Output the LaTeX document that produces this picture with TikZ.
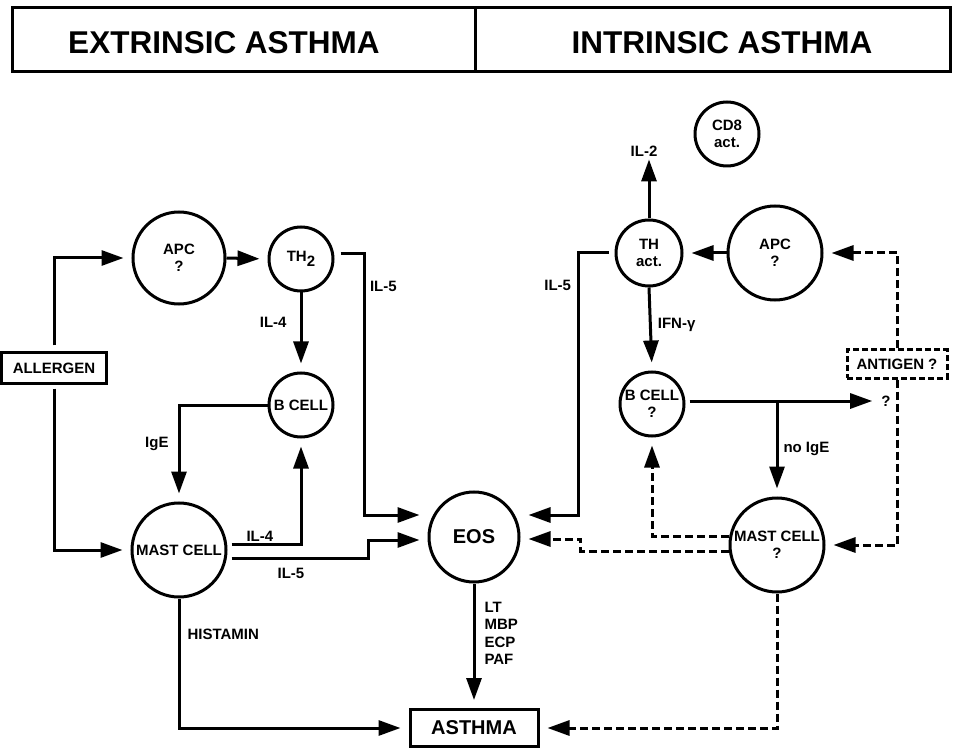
\documentclass[tikz,border=0pt]{standalone}
\usepackage{fontspec}
\setmainfont{Liberation Sans}
\usetikzlibrary{arrows.meta,positioning}
\begin{document}
\begin{tikzpicture}[x=1pt,y=-1pt,
  lbl/.style={font=\bfseries\fontsize{15}{17}\selectfont,inner sep=1pt},
  cell/.style={circle,draw,line width=3pt,inner sep=0pt,align=center,
    font=\bfseries\fontsize{15}{17}\selectfont},
  tbox/.style={draw,line width=3pt,inner sep=0pt,font=\bfseries\fontsize{15}{17}\selectfont},
  head/.style={draw,line width=3pt,inner sep=0pt,minimum height=64pt},
  htxt/.style={font=\bfseries\fontsize{31.5}{33}\selectfont,inner sep=0pt},
  arr/.style={line width=3pt,-{Triangle[length=22pt,width=15pt]},shorten >=8pt},
  dsh/.style={arr,dash pattern=on 8pt off 4pt}]
\useasboundingbox (0,0) rectangle (956,751);
% header
\node[head,minimum width=463pt] (hL) at (243.5,40) {};
\node[head,minimum width=475pt] (hR) at (712.5,40) {};
\node[htxt] (tL) at (224,43) {EXTRINSIC ASTHMA};
\node[htxt] (tR) at (722,43) {INTRINSIC ASTHMA};
% left side nodes
\node[cell,minimum size=92pt] (apcL) at (179,258) {APC\\?};
\node[cell,minimum size=64pt] (th2) at (301,259) {TH\raisebox{-5pt}{2}};
\node[cell,minimum size=64pt] (bcellL) at (301,405) {B CELL};
\node[cell,minimum size=94pt] (mastL) at (179,550) {MAST CELL};
\node[tbox,minimum width=105pt,minimum height=30pt] (allergen) at (54,368) {ALLERGEN};
\node[cell,minimum size=90pt,font=\bfseries\fontsize{20}{22}\selectfont] (eos) at (474,537) {EOS};
\node[tbox,minimum width=128pt,minimum height=37pt,font=\bfseries\fontsize{20}{22}\selectfont] (asthma) at (474,728) {ASTHMA};
% right side nodes
\node[cell,minimum size=64pt] (cd8) at (727,134) {CD8\\act.};
\node[cell,minimum size=66pt] (thact) at (649,253) {TH\\act.};
\node[cell,minimum size=94pt] (apcR) at (775,253) {APC\\?};
\node[cell,minimum size=64pt] (bcellR) at (652,404) {B CELL\\?};
\node[cell,minimum size=94pt] (mastR) at (777,545) {MAST CELL\\?};
\node[tbox,dash pattern=on 6pt off 3pt,minimum width=100pt,minimum height=28pt] (antigen) at (897,364) {ANTIGEN ?};
\node[lbl] (il2) at (644,151) {IL-2};
\node[lbl] (qm) at (886,401) {?};
% left connectors
\draw[arr,shorten <=6pt] (allergen.north) |- (apcL.west);
\draw[arr,shorten <=4pt] (allergen.south) |- (mastL.west);
\draw[arr] (apcL.east) -- (th2.west);
\draw[arr] (th2.south) -- node[lbl,left=12pt,pos=0.38] {IL-4} (bcellL.north);
\draw[arr,shorten <=6pt] ([yshift=5pt]th2.east) -- ++(30,0) node[lbl,below right=25pt and 3pt] {IL-5} |- ([yshift=22pt]eos.west);
\draw[arr] (bcellL.west) -| node[lbl,left=8pt,pos=0.7] {IgE} (mastL.north);
\draw[arr,shorten <=4pt] ([yshift=6pt]mastL.east) -| node[lbl,above,pos=0.22] {IL-4} (bcellL.south);
\draw[arr,shorten <=4pt] ([yshift=-8pt]mastL.east) -- node[lbl,below=8pt,pos=0.45] {IL-5} ++(141,0) |- ([yshift=-3pt]eos.west);
\draw[arr] (mastL.south) |- node[lbl,right=6pt,pos=0.14] {HISTAMIN} (asthma.west);
\draw[arr] (eos.south) -- node[lbl,right=8pt,pos=0.4,align=left,font=\bfseries\fontsize{15}{17.5}\selectfont] {LT\\MBP\\ECP\\PAF} (asthma.north);
% right connectors
\draw[arr,shorten >=2pt] (thact.north) -- (thact.north |- il2.south);
\draw[arr] (apcR.west) -- (thact.east);
\draw[arr] (thact.south) -- node[lbl,right=5pt,pos=0.45] {IFN-γ} (bcellR.north);
\draw[arr,shorten <=6pt] (thact.west) -- ++(-36,0) node[lbl,below left=25pt and 5pt] {IL-5} |- ([yshift=22pt]eos.east);
\draw[arr,shorten <=4pt] ([yshift=3pt]bcellR.east) -- ([yshift=3pt]bcellR.east -| qm.west);
\draw[arr] ([yshift=3pt]bcellR.east -| mastR.north) -- node[lbl,right=4pt] {no IgE} (mastR.north);
\draw[dsh] ([yshift=9pt]mastR.west) -| (bcellR.south);
\draw[dsh] ([yshift=-6pt]mastR.west) -- ++(-148,0) |- ([yshift=-2pt]eos.east);
\draw[dsh] (antigen.north) |- (apcR.east);
\draw[dsh] (antigen.south) |- (mastR.east);
\draw[dsh] (mastR.south) |- (asthma.east);
\end{tikzpicture}
\end{document}
